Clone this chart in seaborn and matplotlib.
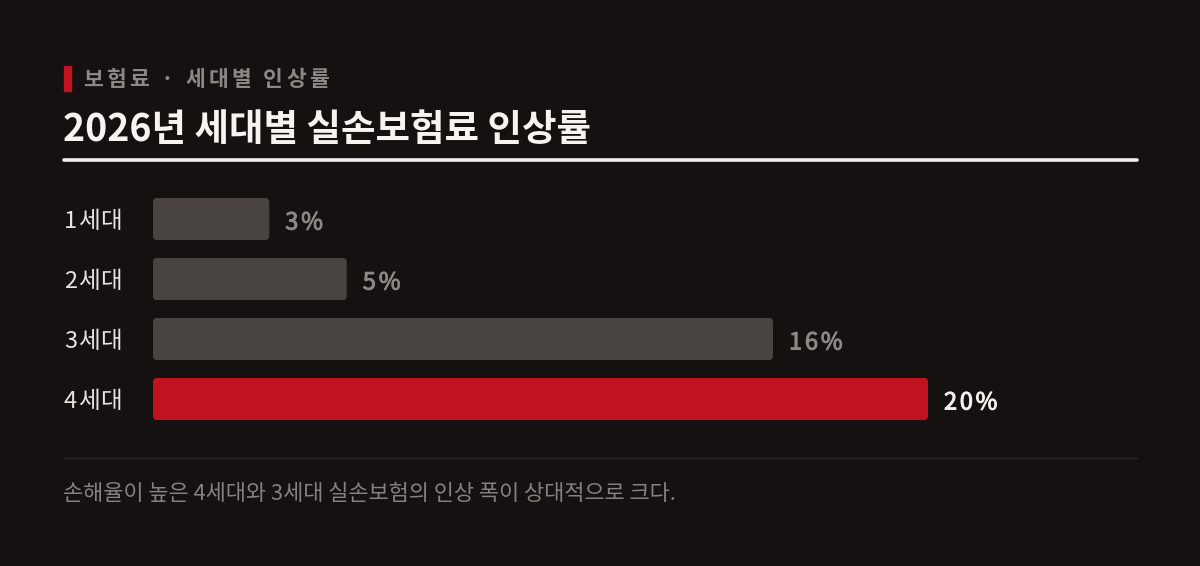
import numpy as np
import pandas as pd
import matplotlib
matplotlib.use("Agg")
import matplotlib.pyplot as plt
import matplotlib.patheffects as pe
import seaborn as sns
from matplotlib.patches import FancyBboxPatch

# -------------------------------
# data
# -------------------------------
generations = ["1세대", "2세대", "3세대", "4세대"]
increase_pct = [3, 5, 16, 20]
value_labels = ["3%", "5%", "16%", "20%"]

kicker = "보험료 · 세대별 인상률"
title = "2026년 세대별 실손보험료 인상률"
note = "손해율이 높은 4세대와 3세대 실손보험의 인상 폭이 상대적으로 크다."

BG = "#141110"
GREY_BAR = "#4a4440"
RED = "#c0131f"
TXT_GREY = "#8d8884"

sns.set_theme(style="white")
plt.rcParams["font.family"] = ["Noto Sans CJK KR", "DejaVu Sans"]

W, H = 1200, 566
fig = plt.figure(figsize=(W / 100, H / 100), dpi=100, facecolor=BG)


def fx(px):
    return px / W


def fy(py):
    return 1 - py / H


def spaced_text(x, y, s, gap, **kw):
    # draw text char by char with extra tracking (pixels)
    r = fig.canvas.get_renderer()
    cur = x
    for ch in s:
        t = fig.text(cur / W, fy(y), ch, **kw)
        bb = t.get_window_extent(renderer=r)
        cur += bb.width + gap
    return cur


# axes spans bars area: x 153..1137, y 189..429
ax = fig.add_axes([fx(153), fy(429), fx(1137) - fx(153), fy(189) - fy(429)])
ax.set_facecolor(BG)

df = pd.DataFrame({"gen": generations, "pct": increase_pct})
colors = [GREY_BAR] * (len(generations) - 1) + [RED]
sns.barplot(data=df, x="pct", y="gen", hue="gen", palette=colors,
            legend=False, width=0.7, ax=ax, saturation=1)

xmax = (1137 - 153) / 38.75
ax.set_xlim(0, xmax)
ax.set_ylim(3.5, -0.5)

# rounded corners
px_per_x = (1137 - 153) / xmax
px_per_y = 60.0
r_px = 4
for p in list(ax.patches):
    x0, y0 = p.get_x(), p.get_y()
    w, h = p.get_width(), p.get_height()
    fc = p.get_facecolor()
    p.remove()
    rs = r_px / px_per_x
    box = FancyBboxPatch((x0, y0), w, h,
                         boxstyle=f"round,pad=0,rounding_size={rs}",
                         mutation_aspect=(r_px / px_per_y) / rs,
                         facecolor=fc, edgecolor="none")
    ax.add_patch(box)

ax.set_xlabel("")
ax.set_ylabel("")
ax.set_xticks([])
ax.set_yticks(range(len(generations)))
ax.set_yticklabels([])
ax.tick_params(axis="y", length=0)
for s in ax.spines.values():
    s.set_visible(False)

# category labels and value labels (letter-spaced)
for i, (g, v, lab) in enumerate(zip(generations, increase_pct, value_labels)):
    yc = 219 + 60 * i
    spaced_text(64, yc + 3, g, 0.8, fontsize=17, fontweight="light",
                color="#e8e4df", va="center", ha="left")
    col = "#f4f1ec" if i == len(generations) - 1 else TXT_GREY
    x_end = 153 + v * px_per_x
    spaced_text(x_end + 16, yc + 4, lab, 2.8, fontsize=17,
                fontweight="normal", color=col, va="center", ha="left",
                path_effects=[pe.withStroke(linewidth=0.7, foreground=col)])

# header
fig.patches.append(plt.Rectangle((fx(64), fy(91)), fx(7), fy(66) - fy(91),
                                 transform=fig.transFigure, color=RED,
                                 figure=fig))
spaced_text(83, 80, kicker, 3.4, fontsize=15.5, fontweight="bold",
            color=TXT_GREY, va="center", ha="left")
fig.text(fx(63), fy(130), title, fontsize=27, fontweight="bold",
         color="#f7f4ef", va="center", ha="left")
fig.add_artist(plt.Line2D([fx(64), fx(1137)], [fy(159.5), fy(159.5)],
                          color="#f4f1ec", linewidth=2.6,
                          transform=fig.transFigure))

# footer
fig.add_artist(plt.Line2D([fx(64), fx(1137)], [fy(458), fy(458)],
                          color="#2a2624", linewidth=1,
                          transform=fig.transFigure))
fig.text(fx(63), fy(494), note, fontsize=15.8, fontweight="light",
         color="#86817c", va="center", ha="left")

plt.savefig("out.png", dpi=100, facecolor=BG)
plt.close()
